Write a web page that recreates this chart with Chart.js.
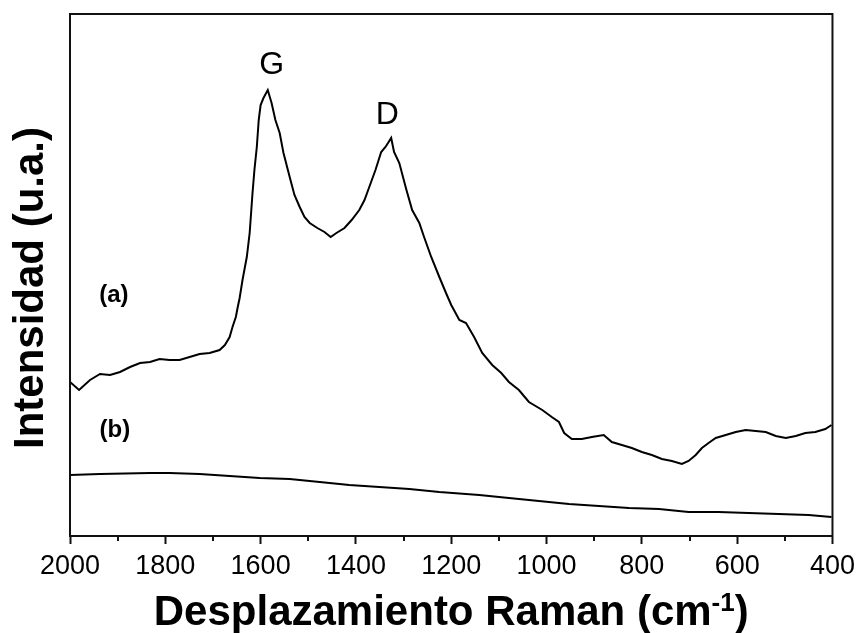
<!DOCTYPE html>
<html>
<head>
<meta charset="utf-8">
<script src="https://cdn.jsdelivr.net/npm/chart.js@4.4.0/dist/chart.umd.min.js"></script>
<style>
  body { margin: 0; background: #fff; }
  canvas { display: block; }
</style>
</head>
<body>
<canvas id="ramanChart" width="861" height="633"></canvas>
<script>
// espectro (a)
const shiftA = [2000, 1981, 1958, 1937, 1916, 1895, 1874, 1853, 1832, 1812, 1791, 1770, 1749, 1728, 1707, 1686,
  1675, 1665, 1659, 1652, 1648, 1644, 1638, 1629, 1623, 1617, 1613, 1608, 1604, 1600, 1594, 1585, 1577,
  1569, 1560, 1552, 1539, 1529, 1518, 1508, 1497, 1481, 1466, 1453, 1441, 1424, 1409, 1393, 1382, 1372,
  1359, 1347, 1338, 1326, 1320, 1309, 1294, 1282, 1267, 1257, 1242, 1225, 1211, 1200, 1183, 1169, 1152,
  1135, 1114, 1095, 1079, 1058, 1037, 1009, 989, 974, 963, 947, 926, 905, 880, 863, 842, 821, 800, 779,
  758, 737, 716, 702, 687, 674, 660, 645, 624, 603, 582, 561, 540, 519, 498, 477, 457, 436, 415, 402];
const intensityA = [154, 146, 156, 162, 161, 164, 169, 173, 174, 177, 176, 176, 179, 182, 183, 186,
  191, 199, 209, 219, 229, 238, 256, 279, 303, 343, 366, 389, 416, 431, 438, 446, 433,
  416, 403, 383, 359, 341, 329, 319, 313, 308, 304, 299, 303, 308, 316, 326, 336, 349,
  366, 384, 389, 398, 384, 373, 346, 326, 313, 299, 279, 259, 243, 231, 216, 213, 199,
  183, 171, 163, 154, 146, 134, 126, 119, 114, 103, 97, 97, 99, 101, 94, 91, 88, 84, 81,
  77, 75, 72, 75, 81, 88, 93, 98, 101, 104, 106, 105, 104, 100, 98, 100, 103, 104, 107, 111];

// espectro (b)
const shiftB = [2000, 1937, 1832, 1791, 1728, 1665, 1602, 1539, 1476, 1414, 1351, 1288, 1225, 1141,
  1079, 1016, 953, 890, 827, 764, 702, 639, 576, 513, 450, 402];
const intensityB = [61, 62, 63, 63, 62, 60, 58, 57, 54, 51, 49, 47, 44, 41,
  38, 35, 32, 30, 28, 27, 24, 24, 23, 22, 21, 19];

const xTicks = [2000, 1800, 1600, 1400, 1200, 1000, 800, 600, 400];
const xMinorTicks = [1900, 1700, 1500, 1300, 1100, 900, 700, 500];

// etiquetas sobre la gráfica: [texto, desplazamiento, intensidad, fuente]
const labels = [
  ['G', 1577, 471, '32px Arial, "Liberation Sans", sans-serif'],
  ['D', 1334, 421, '32px Arial, "Liberation Sans", sans-serif'],
  ['(a)', 1908, 241, 'bold 24px Arial, "Liberation Sans", sans-serif'],
  ['(b)', 1906, 106, 'bold 24px Arial, "Liberation Sans", sans-serif']
];

const FONT = 'Arial, "Liberation Sans", sans-serif';

function toPoints(xs, ys) {
  return xs.map((x, i) => ({ x, y: ys[i] }));
}

const framePlugin = {
  id: 'frame',
  afterDraw(chart) {
    const { ctx, chartArea: a, scales } = chart;
    const xs = scales.x;
    const ys = scales.y;
    ctx.save();

    // marco completo
    ctx.strokeStyle = '#111';
    ctx.lineWidth = 2;
    ctx.strokeRect(a.left, a.top, a.right - a.left, a.bottom - a.top);

    // marcas menores
    ctx.beginPath();
    xMinorTicks.forEach(v => {
      const px = Math.round(xs.getPixelForValue(v));
      ctx.moveTo(px, a.bottom);
      ctx.lineTo(px, a.bottom + 5);
    });
    ctx.stroke();

    // etiquetas G, D, (a), (b)
    ctx.fillStyle = '#000';
    ctx.textAlign = 'center';
    ctx.textBaseline = 'middle';
    labels.forEach(([text, x, y, font]) => {
      ctx.font = font;
      ctx.fillText(text, xs.getPixelForValue(x), ys.getPixelForValue(y));
    });

    // título eje y
    ctx.font = 'bold 42px ' + FONT;
    ctx.textBaseline = 'alphabetic';
    ctx.translate(43, 288);
    ctx.rotate(-Math.PI / 2);
    ctx.fillText('Intensidad (u.a.)', 0, 0);
    ctx.setTransform(1, 0, 0, 1, 0, 0);

    // título eje x con superíndice
    const main = 'Desplazamiento Raman (cm';
    const sup = '-1';
    const close = ')';
    ctx.font = 'bold 42px ' + FONT;
    const wMain = ctx.measureText(main).width;
    const wClose = ctx.measureText(close).width;
    ctx.font = 'bold 26px ' + FONT;
    const wSup = ctx.measureText(sup).width;
    const cx = (a.left + a.right) / 2;
    let x0 = cx - (wMain + wSup + wClose) / 2;
    const base = 625;
    ctx.textAlign = 'left';
    ctx.font = 'bold 42px ' + FONT;
    ctx.fillText(main, x0, base);
    x0 += wMain;
    ctx.font = 'bold 26px ' + FONT;
    ctx.fillText(sup, x0, base - 14);
    x0 += wSup;
    ctx.font = 'bold 42px ' + FONT;
    ctx.fillText(close, x0, base);
    ctx.restore();
  }
};

new Chart(document.getElementById('ramanChart'), {
  type: 'line',
  data: {
    datasets: [
      {
        label: '(a)',
        data: toPoints(shiftA, intensityA),
        borderColor: '#000',
        borderWidth: 2,
        pointRadius: 0,
        tension: 0,
        fill: false
      },
      {
        label: '(b)',
        data: toPoints(shiftB, intensityB),
        borderColor: '#000',
        borderWidth: 2,
        pointRadius: 0,
        tension: 0,
        fill: false
      }
    ]
  },
  options: {
    responsive: false,
    animation: false,
    layout: { padding: { top: 14, right: 27, left: 0, bottom: 0 } },
    plugins: {
      legend: { display: false },
      tooltip: { enabled: false }
    },
    scales: {
      x: {
        type: 'linear',
        reverse: true,
        min: 400,
        max: 2000,
        afterFit(scale) { scale.height = 97; },
        afterBuildTicks(scale) { scale.ticks = xTicks.map(v => ({ value: v })); },
        border: { display: true, color: '#111', width: 2 },
        grid: {
          display: true,
          drawOnChartArea: false,
          drawTicks: true,
          tickLength: 8,
          tickWidth: 2,
          tickColor: '#111'
        },
        ticks: {
          color: '#000',
          font: { family: FONT, size: 27 },
          padding: 6,
          maxRotation: 0,
          autoSkip: false,
          callback: v => String(v)
        }
      },
      y: {
        type: 'linear',
        min: 0,
        max: 522,
        afterFit(scale) { scale.width = 70; },
        border: { display: true, color: '#111', width: 2 },
        grid: { display: false },
        ticks: { display: false }
      }
    }
  },
  plugins: [framePlugin]
});
</script>
</body>
</html>
